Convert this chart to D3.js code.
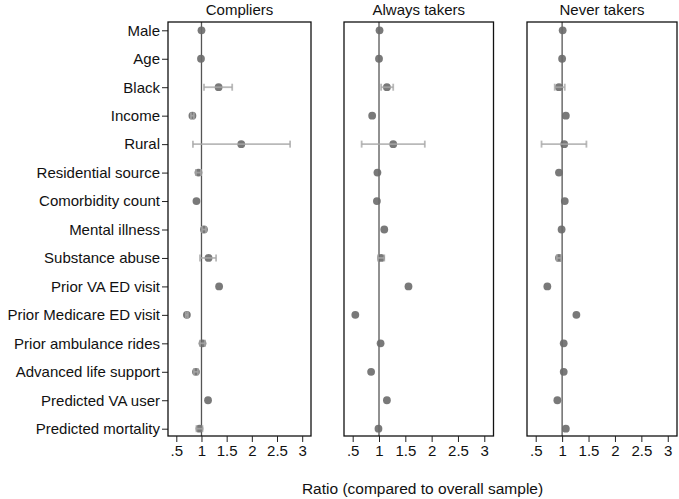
<!DOCTYPE html>
<html lang="en">
<head>
<meta charset="utf-8">
<title>Ratio by group</title>
<style>
  body { margin: 0; background: #fff; }
  text { font-family: "Liberation Sans", Arial, sans-serif; fill: #111; }
</style>
</head>
<body>
<div id="chart"></div>
<script src="https://d3js.org/d3.v7.min.js"></script>
<script>
var categories = ["Male", "Age", "Black", "Income", "Rural", "Residential source", "Comorbidity count",
  "Mental illness", "Substance abuse", "Prior VA ED visit", "Prior Medicare ED visit",
  "Prior ambulance rides", "Advanced life support", "Predicted VA user", "Predicted mortality"];

var groups = ["Compliers", "Always takers", "Never takers"];

// point estimates
var compliersEst = [1.0, 0.99, 1.34, 0.82, 1.79, 0.94, 0.90, 1.05, 1.14, 1.35, 0.71, 1.02, 0.89, 1.13, 0.96];
var alwaysEst    = [1.01, 1.0, 1.15, 0.87, 1.27, 0.97, 0.96, 1.10, 1.04, 1.56, 0.55, 1.03, 0.85, 1.15, 0.99];
var neverEst     = [1.01, 1.0, 0.94, 1.07, 1.04, 0.94, 1.05, 0.99, 0.94, 0.72, 1.27, 1.03, 1.03, 0.91, 1.07];

// confidence intervals (null = too narrow to show)
var compliersLo = [null, null, 1.05, 0.79, 0.83, 0.89, null, 1.01, 0.97, null, 0.69, 0.97, 0.85, null, 0.90];
var compliersHi = [null, null, 1.61, 0.85, 2.76, 0.99, null, 1.09, 1.29, null, 0.73, 1.07, 0.93, null, 1.02];
var alwaysLo    = [null, null, 1.04, null, 0.67, null, null, null, 0.98, null, null, null, null, null, null];
var alwaysHi    = [null, null, 1.27, null, 1.87, null, null, null, 1.10, null, null, null, null, null, null];
var neverLo     = [null, null, 0.86, null, 0.61, null, null, null, 0.90, null, null, null, null, null, null];
var neverHi     = [null, null, 1.05, null, 1.46, null, null, null, 0.98, null, null, null, null, null, null];

var xTicks = [0.5, 1, 1.5, 2, 2.5, 3];
var xTickLabels = [".5", "1", "1.5", "2", "2.5", "3"];

var estimates = [compliersEst, alwaysEst, neverEst];
var lows = [compliersLo, alwaysLo, neverLo];
var highs = [compliersHi, alwaysHi, neverHi];

var width = 679, height = 499;
var panels = [[168, 311], [344, 493.5], [527, 677]];
var plotTop = 22, plotBottom = 436;
var fontSize = "15px";

var svg = d3.select("#chart").append("svg")
    .attr("width", width)
    .attr("height", height);

var y = d3.scalePoint()
    .domain(categories)
    .range([plotTop + 8.3, plotBottom - 7.3]);

// y axis on first panel
var yAxis = d3.axisLeft(y).tickSize(6).tickPadding(2);
var gy = svg.append("g")
    .attr("transform", "translate(" + panels[0][0] + ",0)")
    .call(yAxis);
gy.select(".domain").remove();
gy.selectAll(".tick line").attr("stroke", "#222");
gy.selectAll(".tick text").style("font-size", fontSize).attr("fill", "#111");

groups.forEach(function(g, i) {
  var x = d3.scaleLinear()
      .domain([0.335, 3.175])
      .range(panels[i]);

  var rows = categories.map(function(c, j) {
    return {cat: c, est: estimates[i][j], lo: lows[i][j], hi: highs[i][j]};
  });

  var p = svg.append("g");

  // reference line at 1
  p.append("line")
      .attr("x1", x(1)).attr("x2", x(1))
      .attr("y1", plotTop).attr("y2", plotBottom)
      .attr("stroke", "#555")
      .attr("stroke-width", 1.3);

  // points
  p.selectAll("circle")
      .data(rows)
      .enter()
      .append("circle")
      .attr("cx", function(d) { return x(d.est); })
      .attr("cy", function(d) { return y(d.cat); })
      .attr("r", 3.9)
      .attr("fill", "#6a6a6a")
      .attr("fill-opacity", 0.9);

  // confidence intervals
  var ci = rows.filter(function(d) { return d.lo != null; });
  var cg = p.selectAll("g.ci")
      .data(ci)
      .enter()
      .append("g")
      .attr("class", "ci")
      .attr("stroke", "#a8a8a8")
      .attr("stroke-opacity", 0.8)
      .attr("stroke-width", 1.8);
  cg.append("line")
      .attr("x1", function(d) { return x(d.lo); })
      .attr("x2", function(d) { return x(d.hi); })
      .attr("y1", function(d) { return y(d.cat); })
      .attr("y2", function(d) { return y(d.cat); });
  cg.append("line")
      .attr("x1", function(d) { return x(d.lo); })
      .attr("x2", function(d) { return x(d.lo); })
      .attr("y1", function(d) { return y(d.cat) - 3.5; })
      .attr("y2", function(d) { return y(d.cat) + 3.5; });
  cg.append("line")
      .attr("x1", function(d) { return x(d.hi); })
      .attr("x2", function(d) { return x(d.hi); })
      .attr("y1", function(d) { return y(d.cat) - 3.5; })
      .attr("y2", function(d) { return y(d.cat) + 3.5; });

  // panel frame
  p.append("rect")
      .attr("x", panels[i][0]).attr("y", plotTop)
      .attr("width", panels[i][1] - panels[i][0])
      .attr("height", plotBottom - plotTop)
      .attr("fill", "none")
      .attr("stroke", "#111")
      .attr("stroke-width", 1.3);

  // x axis
  var xAxis = d3.axisBottom(x)
      .tickValues(xTicks)
      .tickFormat(function(d, k) { return xTickLabels[k]; })
      .tickSize(6).tickPadding(3);
  var gx = svg.append("g")
      .attr("transform", "translate(0," + plotBottom + ")")
      .call(xAxis);
  gx.select(".domain").remove();
  gx.selectAll(".tick line").attr("stroke", "#222");
  gx.selectAll(".tick text").style("font-size", fontSize).attr("fill", "#111");

  // panel title
  svg.append("text")
      .attr("x", (panels[i][0] + panels[i][1]) / 2)
      .attr("y", 15)
      .attr("text-anchor", "middle")
      .style("font-size", fontSize)
      .text(g);
});

svg.append("text")
    .attr("x", (panels[0][0] + panels[2][1]) / 2)
    .attr("y", 494)
    .attr("text-anchor", "middle")
    .style("font-size", "15.5px")
    .text("Ratio (compared to overall sample)");
</script>
</body>
</html>
